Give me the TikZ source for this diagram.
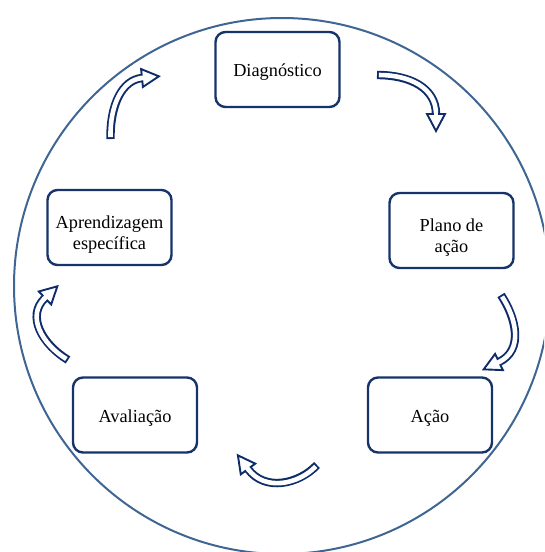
\documentclass[tikz,border=0pt]{standalone}
\usepackage{fontspec}
\setmainfont{Liberation Serif}
\usetikzlibrary{calc}

\definecolor{ringblue}{HTML}{3F6592}
\definecolor{boxnavy}{HTML}{17346A}
\definecolor{arrownavy}{HTML}{0E2C6A}

\tikzset{
  stage/.style={draw=boxnavy, line width=2.4pt, rounded corners=10pt,
    minimum width=124pt, minimum height=75pt, align=center, inner sep=0pt,
    fill=white, font=\fontsize{18.3}{21}\selectfont},
  oneline/.style={stage, text height=18pt},
  ring/.style={draw=ringblue, line width=2pt},
}

% strut that lowers the first line of a two-line label
\newcommand{\toplift}{\rule{0pt}{27pt}}

% Outlined block arrow along a cubic curve: tail, control 1, control 2, head base
\newcommand{\cyclearrow}[4]{%
  \draw[arrownavy, line width=8.4pt] (#1) .. controls (#2) and (#3) .. (#4);
  \draw[white, line width=4.6pt, shorten <=1.9pt] (#1) .. controls (#2) and (#3) .. (#4);
  \draw[arrownavy, line width=1.9pt, fill=white, line join=miter]
    ($(#4)!9pt!90:(#3)$) -- ($(#4)!17pt!180:(#3)$) -- ($(#4)!9pt!-90:(#3)$) -- cycle;
  \draw[white, line width=4.6pt] ($(#4)!2.2pt!(#3)$) -- ($(#4)!2.2pt!180:(#3)$);
}

\begin{document}
\begin{tikzpicture}[x=1pt, y=1pt]
  \useasboundingbox (0,0) rectangle (544,-552);
  \begin{scope}
    \clip (0,0) rectangle (544,-552);
    \draw[ring] (282,-286) circle[radius=268pt];
  \end{scope}

  % stages of the cycle
  \node[oneline] (diag) at (277.5,-69.5) {Diagnóstico};
  \node[stage] (plano) at (451.5,-230.5) {\toplift Plano de\\ação};
  \node[oneline] (acao) at (430,-415) {Ação};
  \node[oneline] (aval) at (135,-415) {Avaliação};
  \node[stage] (aprend) at (109.5,-227.5) {\toplift Aprendizagem\\específica};

  % Diagnóstico -> Plano de ação
  \coordinate (a1) at (377,-75);
  \coordinate (a2) at (410,-75);
  \coordinate (a3) at (436,-88);
  \coordinate (a4) at (436,-114);
  \cyclearrow{a1}{a2}{a3}{a4}

  % Plano de ação -> Ação
  \coordinate (b1) at (501,-295);
  \coordinate (b2) at (516,-318);
  \coordinate (b3) at (524,-350);
  \coordinate (b4) at (499,-362);
  \cyclearrow{b1}{b2}{b3}{b4}

  % Ação -> Avaliação
  \coordinate (c1) at (317,-465);
  \coordinate (c2) at (299,-484);
  \coordinate (c3) at (265,-492);
  \coordinate (c4) at (248,-469);
  \cyclearrow{c1}{c2}{c3}{c4}

  % Avaliação -> Aprendizagem específica
  \coordinate (d1) at (68,-360);
  \coordinate (d2) at (42,-344);
  \coordinate (d3) at (26,-316);
  \coordinate (d4) at (45,-298);
  \cyclearrow{d1}{d2}{d3}{d4}

  % Aprendizagem específica -> Diagnóstico
  \coordinate (e1) at (110.5,-139);
  \coordinate (e2) at (110,-105);
  \coordinate (e3) at (122,-80);
  \coordinate (e4) at (142,-78);
  \cyclearrow{e1}{e2}{e3}{e4}
\end{tikzpicture}
\end{document}
